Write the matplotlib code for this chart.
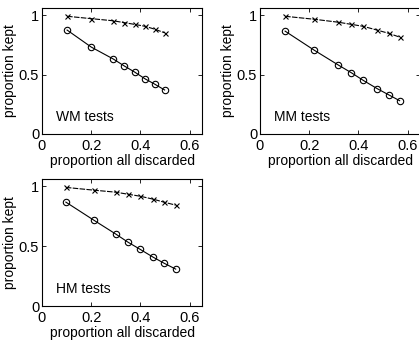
import matplotlib
matplotlib.use('Agg')
import matplotlib.pyplot as plt

plt.rcParams['font.family'] = ['Liberation Sans', 'DejaVu Sans']
plt.rcParams['font.size'] = 10

# Data
wm_x = [0.102, 0.20, 0.29, 0.335, 0.376, 0.42, 0.457, 0.498]
wm_circ = [0.874, 0.731, 0.630, 0.571, 0.521, 0.462, 0.420, 0.370]
wm_cross = [0.990, 0.970, 0.952, 0.936, 0.922, 0.905, 0.882, 0.851]

mm_x = [0.102, 0.22, 0.318, 0.371, 0.42, 0.477, 0.522, 0.567]
mm_circ = [0.865, 0.705, 0.580, 0.515, 0.450, 0.380, 0.330, 0.280]
mm_cross = [0.990, 0.965, 0.940, 0.922, 0.905, 0.873, 0.847, 0.815]

hm_x = [0.097, 0.21, 0.30, 0.349, 0.397, 0.451, 0.495, 0.543]
hm_circ = [0.867, 0.717, 0.600, 0.533, 0.475, 0.408, 0.358, 0.308]
hm_cross = [0.990, 0.967, 0.950, 0.933, 0.917, 0.892, 0.867, 0.842]

panels = [
    ('WM tests', wm_x, wm_circ, wm_cross, [0.1002, 0.606, 0.382, 0.3706]),
    ('MM tests', mm_x, mm_circ, mm_cross, [0.6205, 0.606, 0.382, 0.3706]),
    ('HM tests', hm_x, hm_circ, hm_cross, [0.1002, 0.100, 0.382, 0.3735]),
]

fig = plt.figure(figsize=(4.19, 3.40), dpi=100)

for name, x, circ, cross, pos in panels:
    ax = fig.add_axes(pos)
    ax.plot(x, circ, '-', color='black', lw=0.8, marker='o', ms=4.6,
            mfc='none', mec='black', mew=0.8)
    ax.plot(x, cross, color='black', lw=0.8, ls=(0, (5, 1.2)), marker='x',
            ms=3.6, mew=0.8)
    ax.set_xlim(0, 0.65)
    ax.set_ylim(0, 1.06)
    ax.set_xticks([0, 0.2, 0.4, 0.6])
    ax.set_xticklabels(['0', '0.2', '0.4', '0.6'])
    ax.set_yticks([0, 0.5, 1])
    ax.set_yticklabels(['0', '0.5', '1'])
    ax.tick_params(direction='in', top=True, right=True, length=3,
                   width=0.6, labelsize=10.5)
    ax.tick_params(axis='x', pad=3.5)
    ax.tick_params(axis='y', pad=2)
    for s in ax.spines.values():
        s.set_linewidth(0.8)
    ax.set_xlabel('proportion all discarded', labelpad=1)
    ax.set_ylabel('proportion kept', labelpad=1.5)
    ax.text(0.055, 0.14, name, fontsize=10, va='center', ha='left')

fig.savefig('out.png', dpi=100)
